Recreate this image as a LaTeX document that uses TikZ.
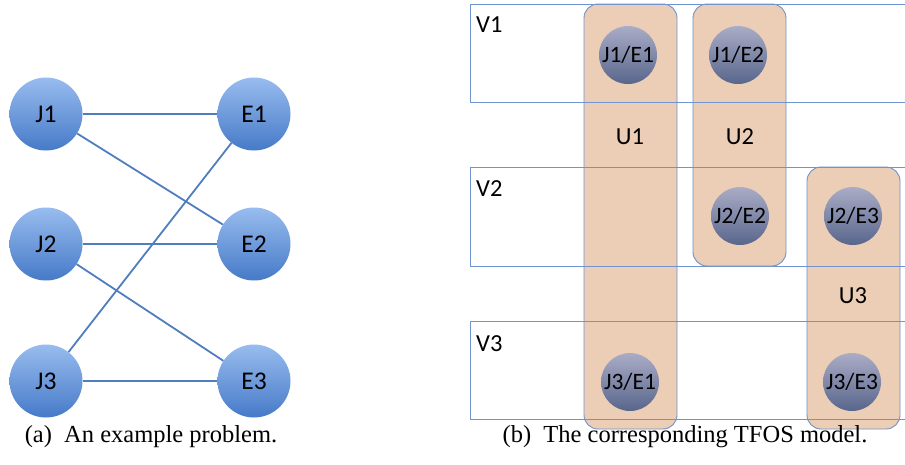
\documentclass[tikz,border=0pt]{standalone}
\usepackage{fontspec}
\setmainfont{Liberation Serif}
\newfontfamily\calfont{Carlito}
\definecolor{bluetop}{RGB}{152,188,238}
\definecolor{bluebot}{RGB}{70,122,200}
\definecolor{graytop}{RGB}{170,172,198}
\definecolor{graybot}{RGB}{88,102,140}
\definecolor{edgecol}{RGB}{79,125,190}
\definecolor{uborder}{RGB}{110,145,200}
\definecolor{ufill}{RGB}{236,206,182}
\definecolor{vcol}{RGB}{112,148,208}
\begin{document}
\begin{tikzpicture}[x=1pt,y=-1pt,
  bluenode/.style={circle,minimum size=73pt,inner sep=0pt,draw=none,
    top color=bluetop,bottom color=bluebot,font=\calfont\fontsize{25.5}{25.5}\selectfont},
  graynode/.style={circle,minimum size=58pt,inner sep=0pt,draw=none,
    top color=graytop,bottom color=graybot,font=\calfont\fontsize{23.5}{23.5}\selectfont},
  linkline/.style={draw=edgecol,line width=1.8pt},
  ubox/.style={draw=uborder,line width=0.9pt,fill=ufill,rounded corners=14pt},
  vline/.style={draw=vcol,line width=0.8pt},
  lbl/.style={font=\calfont\fontsize{24.5}{24.5}\selectfont,inner sep=0pt},
  captext/.style={font=\fontsize{24.5}{24.5}\selectfont,inner sep=0pt}]
\useasboundingbox (0,0) rectangle (905,464);
% left graph
\node[bluenode] (J1) at (46,114) {J1};
\node[bluenode] (E1) at (254,114) {E1};
\node[bluenode] (J2) at (46,244) {J2};
\node[bluenode] (E2) at (254,244) {E2};
\node[bluenode] (J3) at (46,381) {J3};
\node[bluenode] (E3) at (254,381) {E3};
\draw[linkline] (J1) -- (E1);
\draw[linkline] (J1) -- (E2);
\draw[linkline] (J2) -- (E2);
\draw[linkline] (J2) -- (E3);
\draw[linkline] (J3) -- (E3);
\draw[linkline] (J3) -- (E1);
\node[captext] (capa) at (151,437) {(a)\ \ An example problem.};
% right model
\path[ubox] (584,4) rectangle (677,429);
\path[ubox] (693,4) rectangle (786,266);
\path[ubox] (807,167) rectangle (900,429);
\coordinate (v1a) at (905,4); \coordinate (v1b) at (470,4);
\coordinate (v1c) at (470,102); \coordinate (v1d) at (905,102);
\draw[vline] (v1a) -- (v1b) -- (v1c) -- (v1d);
\coordinate (v2a) at (905,167); \coordinate (v2b) at (470,167);
\coordinate (v2c) at (470,266); \coordinate (v2d) at (905,266);
\draw[vline] (v2a) -- (v2b) -- (v2c) -- (v2d);
\coordinate (v3a) at (905,321); \coordinate (v3b) at (470,321);
\coordinate (v3c) at (470,419); \coordinate (v3d) at (905,419);
\draw[vline] (v3a) -- (v3b) -- (v3c) -- (v3d);
\node[lbl,anchor=west] (V1) at (476,25) {V1};
\node[lbl,anchor=west] (V2) at (476,189) {V2};
\node[lbl,anchor=west] (V3) at (476,344) {V3};
\node[lbl] (U1) at (630,137) {U1};
\node[lbl] (U2) at (740,137) {U2};
\node[lbl] (U3) at (853,296) {U3};
\node[graynode] (A) at (628,55) {J1/E1};
\node[graynode] (B) at (738,55) {J1/E2};
\node[graynode] (C) at (740,216) {J2/E2};
\node[graynode] (D) at (853,216) {J2/E3};
\node[graynode] (F) at (630,382) {J3/E1};
\node[graynode] (G) at (852,382) {J3/E3};
\node[captext] (capb) at (685,437) {(b)\ \ The corresponding TFOS model.};
\end{tikzpicture}
\end{document}
